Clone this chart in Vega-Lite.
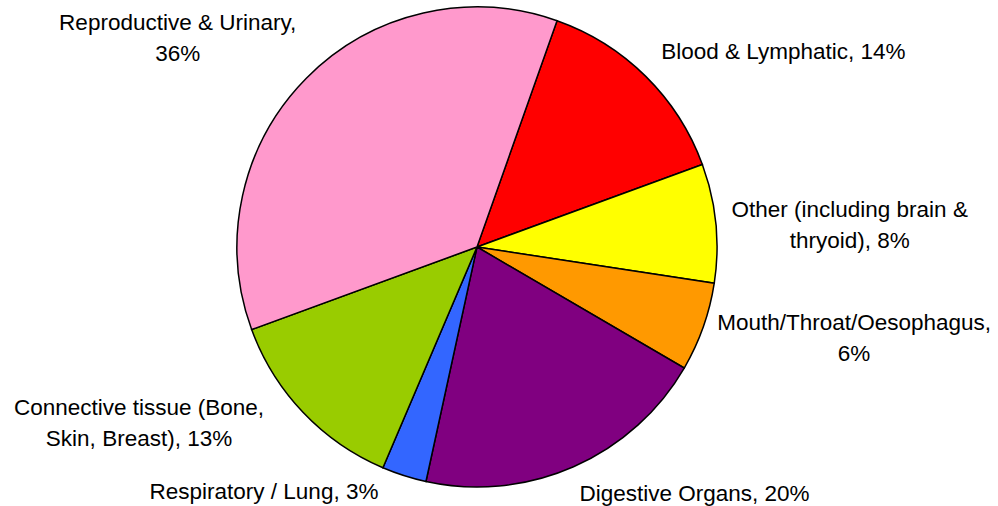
{
  "$schema": "https://vega.github.io/schema/vega-lite/v6.json",
  "width": 954,
  "height": 494,
  "autosize": {"type": "none"},
  "padding": {"left": 0, "top": 0, "right": 44, "bottom": 12},
  "background": "white",
  "config": {"view": {"stroke": null}},
  "data": {
    "values": [
      {"category": "Blood & Lymphatic", "pct": 14, "order": 1, "label": "Blood & Lymphatic, 14%", "grp": "A"},
      {"category": "Other (including brain & thryoid)", "pct": 8, "order": 2, "label": "Other (including brain &\nthryoid), 8%", "grp": "B"},
      {"category": "Mouth/Throat/Oesophagus", "pct": 6, "order": 3, "label": "Mouth/Throat/Oesophagus,\n6%", "grp": "F"},
      {"category": "Digestive Organs", "pct": 20, "order": 4, "label": "Digestive Organs, 20%", "grp": "A"},
      {"category": "Respiratory / Lung", "pct": 3, "order": 5, "label": "Respiratory / Lung, 3%", "grp": "C"},
      {"category": "Connective tissue (Bone, Skin, Breast)", "pct": 13, "order": 6, "label": "Connective tissue (Bone,\nSkin, Breast), 13%", "grp": "E"},
      {"category": "Reproductive & Urinary", "pct": 36, "order": 7, "label": "Reproductive & Urinary,\n36%", "grp": "D"}
    ]
  },
  "encoding": {
    "theta": {"field": "pct", "type": "quantitative", "stack": true, "scale": {"domain": [0, 100], "range": [0.34, 6.6232]}},
    "order": {"field": "order", "type": "quantitative"}
  },
  "layer": [
    {
      "mark": {"type": "arc", "outerRadius": 240, "stroke": "black", "strokeWidth": 1.5},
      "encoding": {
        "color": {
          "field": "category", "type": "nominal", "legend": null,
          "scale": {
            "domain": ["Blood & Lymphatic", "Other (including brain & thryoid)", "Mouth/Throat/Oesophagus", "Digestive Organs", "Respiratory / Lung", "Connective tissue (Bone, Skin, Breast)", "Reproductive & Urinary"],
            "range": ["#FF0000", "#FFFF00", "#FF9900", "#800080", "#3366FF", "#99CC00", "#FF99CC"]
          }
        }
      }
    },
    {
      "mark": {"type": "text", "radius": 272, "align": "left", "baseline": "middle", "dx": -7, "dy": -2, "font": "Liberation Sans", "fontSize": 22.5, "color": "black"},
      "encoding": {"text": {"condition": {"test": "datum.grp == 'A'", "field": "label"}, "value": ""}}
    },
    {
      "mark": {"type": "text", "radius": 260, "align": "center", "baseline": "middle", "dx": 114, "dy": -11, "lineBreak": "\n", "lineHeight": 31, "font": "Liberation Sans", "fontSize": 22.5, "color": "black"},
      "encoding": {"text": {"condition": {"test": "datum.grp == 'B'", "field": "label"}, "value": ""}}
    },
    {
      "mark": {"type": "text", "radius": 260, "align": "center", "baseline": "middle", "dx": 132, "dy": -11, "lineBreak": "\n", "lineHeight": 31, "font": "Liberation Sans", "fontSize": 22.5, "color": "black"},
      "encoding": {"text": {"condition": {"test": "datum.grp == 'F'", "field": "label"}, "value": ""}}
    },
    {
      "mark": {"type": "text", "radius": 262, "align": "right", "baseline": "middle", "dx": -19, "dy": -5, "font": "Liberation Sans", "fontSize": 22.5, "color": "black"},
      "encoding": {"text": {"condition": {"test": "datum.grp == 'C'", "field": "label"}, "value": ""}}
    },
    {
      "mark": {"type": "text", "radius": 262, "align": "center", "baseline": "middle", "dx": -113, "dy": -40, "lineBreak": "\n", "lineHeight": 31, "font": "Liberation Sans", "fontSize": 22.5, "color": "black"},
      "encoding": {"text": {"condition": {"test": "datum.grp == 'D'", "field": "label"}, "value": ""}}
    },
    {
      "mark": {"type": "text", "radius": 262, "align": "center", "baseline": "middle", "dx": -148, "dy": -19, "lineBreak": "\n", "lineHeight": 31, "font": "Liberation Sans", "fontSize": 22.5, "color": "black"},
      "encoding": {"text": {"condition": {"test": "datum.grp == 'E'", "field": "label"}, "value": ""}}
    }
  ]
}
